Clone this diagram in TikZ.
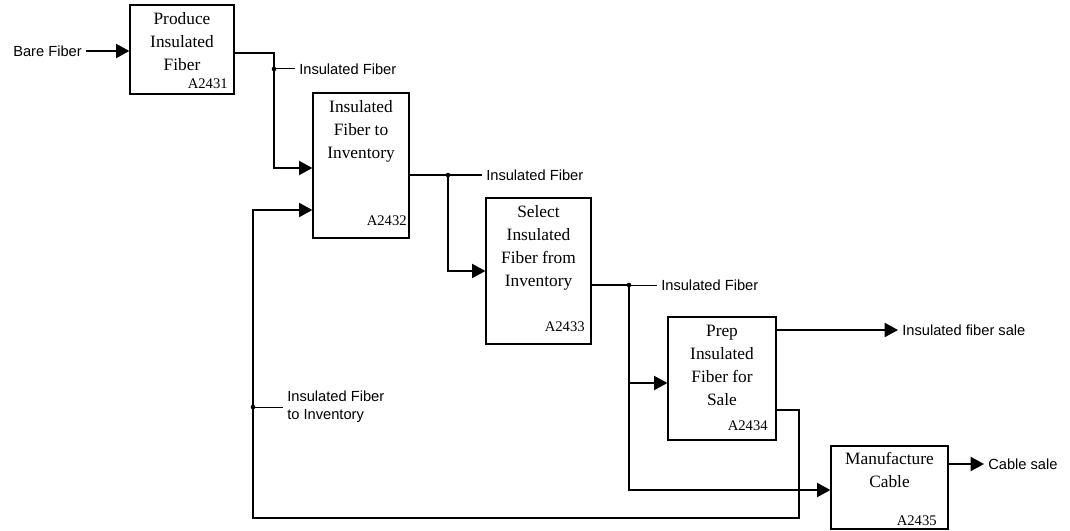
\documentclass[tikz,border=0pt]{standalone}
\usepackage{fontspec}
\setmainfont{Liberation Serif}
\newfontfamily\arialfont{Liberation Sans}
\usetikzlibrary{positioning,arrows.meta,calc}
\tikzset{
  act/.style={draw, line width=0.9pt, inner sep=0pt},
  ttl/.style={anchor=north, align=center, inner sep=0pt, font=\fontsize{13}{17.25}\selectfont},
  code/.style={anchor=base east, inner sep=0pt, font=\fontsize{11}{13}\selectfont},
  lbl/.style={anchor=west, align=left, inner sep=3pt, font=\arialfont\fontsize{11}{13.5}\selectfont},
  fl/.style={line width=1.5pt, -{Triangle[length=10pt,width=10.5pt]}},
  stub/.style={line width=0.75pt},
}

\begin{document}
\begin{tikzpicture}[x=0.75pt, y=-0.75pt]
\useasboundingbox (0,0) rectangle (1070,531);
% activity boxes
\node[act, minimum width=78pt, minimum height=66.75pt] (produce) at (182,49.5) {};
\node[act, minimum width=72pt, minimum height=108.75pt] (toinv) at (361,165.5) {};
\node[act, minimum width=78.75pt, minimum height=109.5pt] (select) at (538.5,271) {};
\node[act, minimum width=81pt, minimum height=92.25pt] (prep) at (722,378.5) {};
\node[act, minimum width=87.75pt, minimum height=62.25pt] (mfg) at (889.5,487.5) {};
\node[ttl] at ($(produce.north)+(0,8)$) {Produce\\Insulated\\Fiber};
\node[ttl] at ($(toinv.north)+(0,8)$) {Insulated\\Fiber to\\Inventory};
\node[ttl] at ($(select.north)+(0,8)$) {Select\\Insulated\\Fiber from\\Inventory};
\node[ttl] at ($(prep.north)+(0,8)$) {Prep\\Insulated\\Fiber for\\Sale};
\node[ttl] at ($(mfg.north)+(0,7)$) {Manufacture\\Cable};
\node[code] at (228,89) {A2431};
\node[code] at (407,225) {A2432};
\node[code] at (585,331) {A2433};
\node[code] at (768,430) {A2434};
\node[code] at (937,525) {A2435};
% junctions
\coordinate (ja) at (274,69);
\coordinate (jb) at (448,175);
\coordinate (jc) at (629,285);
\coordinate (jd) at (253,407);
\coordinate (loop) at (799,518);
% labels
\node[lbl, anchor=east] (bare) at (86,51) {Bare Fiber};
\node[lbl] (ifa) at (295,69) {Insulated Fiber};
\node[lbl] (ifb) at (482,175) {Insulated Fiber};
\node[lbl] (ifc) at (657,285) {Insulated Fiber};
\node[lbl] (ifinv) at (283,407) {Insulated Fiber\\to Inventory};
\node[lbl] (sale) at (898,330) {Insulated fiber sale};
\node[lbl] (cable) at (984,464) {Cable sale};
% flows
\draw[fl] (bare) -- (bare -| produce.west);
\draw[fl] ($(produce.east)+(0,3.5)$) -| (ja) |- ($(toinv.west)+(0,2.5)$);
\draw[fl] (jb -| toinv.east) -- (jb) |- (select.west);
\draw[fl] (jc -| select.east) -- (jc) |- ($(prep.west)+(0,4.5)$);
\draw[fl] (jc) |- ($(mfg.west)+(0,2.5)$);
\draw[fl] (prep.east |- sale.west) -- (sale.west);
\draw[fl] ($(prep.east)+(0,31.5)$) -| (loop) -| (jd) |- ($(toinv.west)+(0,44.5)$);
\draw[fl] (mfg.east |- cable.west) -- (cable.west);
\draw[stub] (ja) -- (ifa);
\draw[stub] (jb) -- (ifb);
\draw[stub] (jc) -- (ifc);
\draw[stub] (jd) -- (ifinv);
\foreach \j in {ja,jb,jc,jd} \fill (\j) circle (2.3);
\end{tikzpicture}
\end{document}
